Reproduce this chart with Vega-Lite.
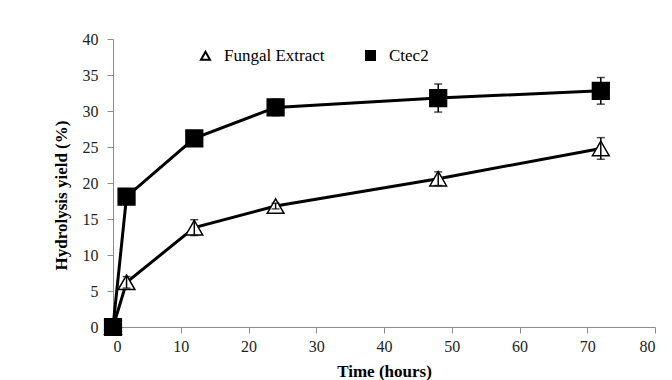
{
  "$schema": "https://vega.github.io/schema/vega-lite/v6.json",
  "width": 542,
  "height": 288,
  "autosize": {"type": "none"},
  "padding": {"left": 113, "top": 39, "right": 17, "bottom": 53},
  "background": "white",
  "data": {
    "values": [
      {"time": 0, "series": "Fungal Extract", "yield": 0, "err": 0},
      {"time": 2, "series": "Fungal Extract", "yield": 6.2, "err": 0.8},
      {"time": 12, "series": "Fungal Extract", "yield": 13.8, "err": 1.1},
      {"time": 24, "series": "Fungal Extract", "yield": 16.8, "err": 0.4},
      {"time": 48, "series": "Fungal Extract", "yield": 20.6, "err": 0.95},
      {"time": 72, "series": "Fungal Extract", "yield": 24.8, "err": 1.5},
      {"time": 0, "series": "Ctec2", "yield": 0, "err": 0},
      {"time": 2, "series": "Ctec2", "yield": 18.1, "err": 0.9},
      {"time": 12, "series": "Ctec2", "yield": 26.2, "err": 0.5},
      {"time": 24, "series": "Ctec2", "yield": 30.5, "err": 1.15},
      {"time": 48, "series": "Ctec2", "yield": 31.8, "err": 1.95},
      {"time": 72, "series": "Ctec2", "yield": 32.8, "err": 1.85}
    ]
  },
  "encoding": {
    "x": {
      "field": "time", "type": "quantitative",
      "scale": {"domain": [0, 80], "nice": false},
      "axis": {"values": [0, 10, 20, 30, 40, 50, 60, 70, 80], "title": "Time (hours)", "labelPadding": 5, "titlePadding": 9}
    },
    "y": {
      "field": "yield", "type": "quantitative",
      "scale": {"domain": [0, 40], "nice": false},
      "axis": {"values": [0, 5, 10, 15, 20, 25, 30, 35, 40], "title": "Hydrolysis  yield (%)", "labelPadding": 9, "titleX": -52, "titleY": 156, "titleBaseline": "middle"}
    }
  },
  "layer": [
    {
      "mark": {"type": "line", "color": "black", "strokeWidth": 3},
      "encoding": {"detail": {"field": "series"}}
    },
    {
      "mark": {"type": "point", "filled": false, "opacity": 1, "stroke": "black", "strokeWidth": 1.5},
      "encoding": {
        "shape": {
          "field": "series", "type": "nominal",
          "scale": {"domain": ["Fungal Extract", "Ctec2"], "range": ["triangle-up", "square"]},
          "legend": {
            "title": null,
            "orient": "none",
            "legendX": 84,
            "legendY": 8,
            "direction": "horizontal",
            "padding": 0,
            "symbolSize": 81,
            "symbolStrokeWidth": 2,
            "labelOffset": 10,
            "columnPadding": 37,
            "labelFont": "Liberation Serif",
            "labelFontSize": 17,
            "labelColor": "black"
          }
        },
        "fill": {
          "field": "series", "type": "nominal",
          "scale": {"domain": ["Fungal Extract", "Ctec2"], "range": ["white", "black"]}
        },
        "size": {"value": 280}
      }
    },
    {
      "mark": {"type": "errorbar", "ticks": {"size": 8}, "color": "black", "thickness": 1.5},
      "encoding": {
        "y": {"field": "yield", "type": "quantitative"},
        "yError": {"field": "err"}
      }
    }
  ],
  "config": {
    "view": {"stroke": null},
    "axis": {
      "grid": false,
      "domainColor": "#8c8c8c",
      "tickColor": "#8c8c8c",
      "tickSize": 6,
      "labelFont": "Liberation Serif",
      "labelFontSize": 16,
      "labelColor": "#222",
      "titleFont": "Liberation Serif",
      "titleFontSize": 17,
      "titleFontWeight": "bold",
      "titleColor": "black"
    }
  }
}
